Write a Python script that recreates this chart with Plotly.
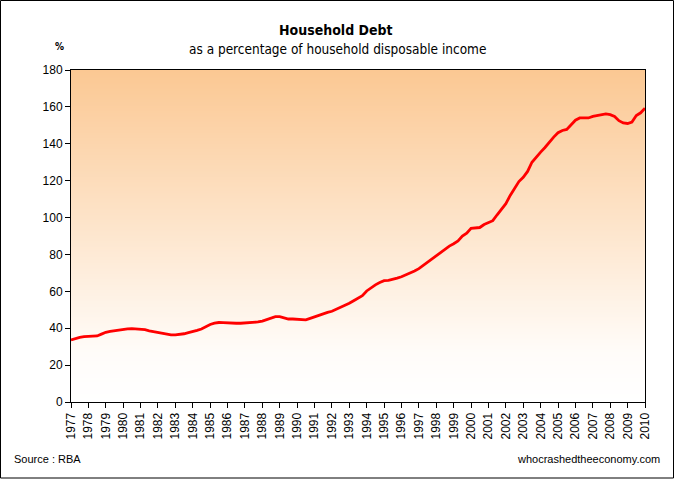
import plotly.graph_objects as go

# Quarterly observations, 1977 Q1 .. 2010 Q1 (decimal year positions)
years_q = [1977 + i * 0.25 for i in range(133)]
debt_pct = [
    33.6, 34.5, 35.0, 35.4, 35.5, 35.6, 35.8, 36.8,   # 1977-1978
    37.8, 38.3, 38.7, 39.2, 39.5, 39.7, 39.8, 39.7,   # 1979-1980
    39.6, 39.2, 38.6, 38.1, 37.8, 37.0, 36.5, 36.4,   # 1981-1982
    36.4, 36.5, 37.0, 37.6, 38.1, 38.8, 39.6, 40.8,   # 1983-1984
    42.0, 42.7, 43.1, 43.0, 42.8, 42.7, 42.7, 42.7,   # 1985-1986
    42.8, 43.0, 43.2, 43.4, 43.9, 44.8, 45.8, 46.3,   # 1987-1988
    46.3, 45.6, 45.0, 45.0, 44.9, 44.5, 44.5, 45.3,   # 1989-1990
    46.2, 46.8, 47.8, 48.6, 49.2, 50.2, 51.1, 52.3,   # 1991-1992
    53.5, 54.9, 56.2, 57.6, 60.2, 62.0, 63.5, 64.8,   # 1993-1994
    65.8, 66.0, 66.4, 67.2, 67.9, 68.8, 70.0, 71.0,   # 1995-1996
    72.3, 74.0, 76.0, 77.8, 79.5, 81.0, 82.6, 84.5,   # 1997-1998
    85.8, 87.3, 89.9, 91.5, 94.2, 94.3, 94.6, 96.2,   # 1999-2000
    97.4, 98.3, 101.5, 104.3, 107.5, 112.0, 116.0, 119.5,  # 2001-2002
    121.8, 125.0, 130.0, 133.0, 135.5, 138.0, 141.0, 143.6,  # 2003-2004
    146.0, 147.2, 147.8, 150.5, 152.8, 154.0, 154.0, 154.0,  # 2005-2006
    154.8, 155.4, 155.6, 156.2, 155.8, 154.8, 152.5, 151.3,  # 2007-2008
    151.0, 151.8, 155.3, 156.8, 159.3,                       # 2009-2010Q1
]
tick_years = list(range(1977, 2011))
tick_labels = [str(y) for y in tick_years]
y_ticks = list(range(0, 181, 20))

# plot-area geometry in pixels (for converting to paper coords)
L, R, T, B = 71, 645, 70, 402
W, H = R - L, B - T


def px_x(px):
    return (px - L) / W


def px_y(py):
    return (B - py) / H


fig = go.Figure()

# vertical gradient background (white at bottom -> peach at top)
grad_y = list(range(0, 181, 10))
fig.add_trace(go.Heatmap(
    x=[1970, 2020], y=grad_y,
    z=[[v, v] for v in grad_y],
    colorscale=[[0, "#FFFFFF"], [0.15, "#FFFCF9"], [1, "#FBC893"]],
    zmin=0, zmax=180, zsmooth="best", showscale=False, hoverinfo="skip",
))

fig.add_trace(go.Scatter(
    x=years_q, y=debt_pct, mode="lines",
    line=dict(color="#FF0000", width=2.8),
    name="Household debt", showlegend=False,
))

tick_font = dict(family="Liberation Sans, Arial, sans-serif", size=12, color="#000000")

fig.update_layout(
    width=674, height=479,
    margin=dict(l=L, r=674 - R, t=T, b=479 - B),
    paper_bgcolor="#FFFFFF", plot_bgcolor="#FFFFFF",
    xaxis=dict(
        range=[1977, 2010], tickmode="array", tickvals=tick_years, ticktext=tick_labels,
        tickangle=-90, ticks="outside", ticklen=5, tickcolor="#000000", tickwidth=1,
        showline=True, linecolor="#000000", linewidth=1, mirror=True,
        showgrid=False, zeroline=False, tickfont=tick_font,
    ),
    yaxis=dict(
        range=[0, 180], tickmode="array", tickvals=y_ticks,
        ticks="outside", ticklen=5, tickcolor="#000000", tickwidth=1,
        showline=True, linecolor="#000000", linewidth=1, mirror=True,
        showgrid=False, zeroline=False, tickfont=tick_font,
    ),
    shapes=[dict(
        type="rect", xref="paper", yref="paper",
        x0=px_x(0.5), x1=px_x(673.5), y0=px_y(478), y1=px_y(0.5),
        line=dict(color="#000000", width=1), fillcolor="rgba(0,0,0,0)", layer="above",
    )],
    annotations=[
        dict(text="<b>Household Debt</b>", xref="paper", yref="paper",
             x=px_x(336), y=px_y(30), showarrow=False, xanchor="center", yanchor="middle",
             font=dict(family="DejaVu Sans Condensed, DejaVu Sans, sans-serif", size=14, color="#000000")),
        dict(text="as a percentage of household disposable income", xref="paper", yref="paper",
             x=px_x(337), y=px_y(49), showarrow=False, xanchor="center", yanchor="middle",
             font=dict(family="DejaVu Sans Condensed, DejaVu Sans, sans-serif", size=13.5, color="#000000")),
        dict(text="<b>%</b>", xref="paper", yref="paper",
             x=px_x(59), y=px_y(46), showarrow=False, xanchor="center", yanchor="middle",
             font=dict(family="DejaVu Sans Condensed, DejaVu Sans, sans-serif", size=10, color="#000000")),
        dict(text="Source : RBA", xref="paper", yref="paper",
             x=px_x(12), y=px_y(459), showarrow=False, xanchor="left", yanchor="middle",
             font=dict(family="Liberation Sans, Arial, sans-serif", size=11, color="#000000")),
        dict(text="whocrashedtheeconomy.com", xref="paper", yref="paper",
             x=px_x(662), y=px_y(459), showarrow=False, xanchor="right", yanchor="middle",
             font=dict(family="Liberation Sans, Arial, sans-serif", size=11, color="#000000")),
    ],
)

fig.write_html(
    "out.html",
    config={"displayModeBar": False},
    post_script="document.body.style.margin='0';document.body.style.overflow='hidden';",
)
